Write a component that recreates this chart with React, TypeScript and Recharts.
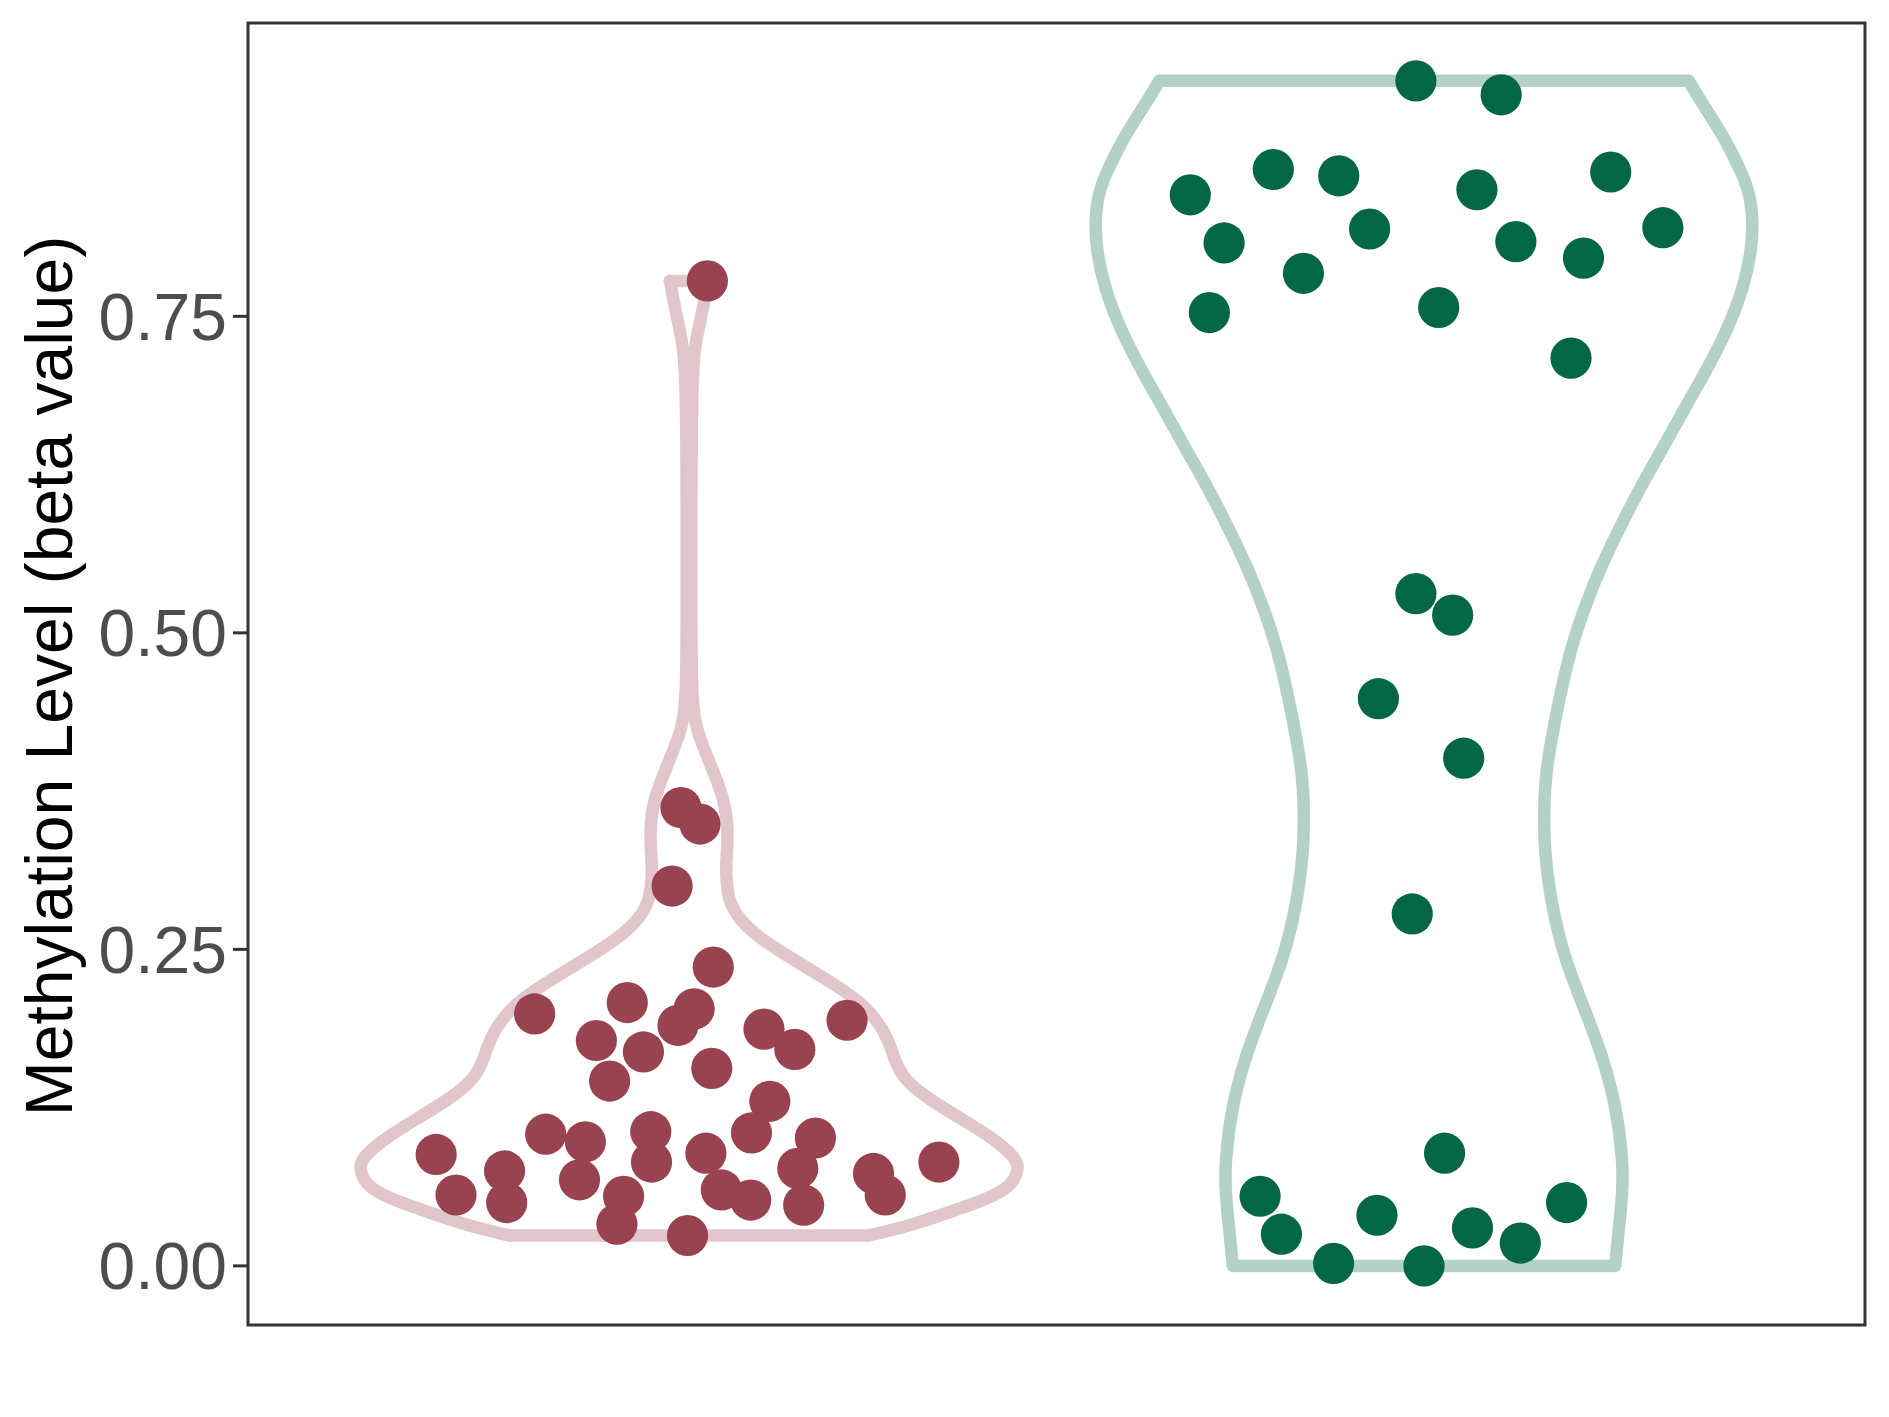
import React from 'react';
import {
    ComposedChart,
    Scatter,
    Line,
    XAxis,
    YAxis,
    ReferenceArea
} from 'recharts';

// group centres on the numeric x scale (two unlabeled categories)
const groupPositions = [1, 2];

// group 1 (red): jitter offset from centre and methylation value of each sample
const redJitter = [0.025, -0.011, 0.015, -0.023, 0.033, -0.210, -0.084, 0.007, -0.015, -0.126,
    -0.062, 0.102, 0.144, 0.215, -0.108, 0.031, 0.110, -0.195, -0.141, -0.052,
    0.085, 0.172, -0.344, -0.251, -0.149, -0.051, 0.023, 0.148, 0.251, 0.340,
    -0.317, -0.248, -0.089, 0.044, 0.084, 0.156, 0.267, -0.098, -0.002];
const redValues = [0.778, 0.362, 0.349, 0.300, 0.236, 0.199, 0.208, 0.203, 0.190, 0.178,
    0.169, 0.187, 0.171, 0.194, 0.146, 0.156, 0.130, 0.104, 0.098, 0.106,
    0.105, 0.101, 0.088, 0.075, 0.068, 0.082, 0.089, 0.077, 0.073, 0.082,
    0.056, 0.050, 0.055, 0.060, 0.052, 0.048, 0.056, 0.033, 0.024];

// group 2 (green)
const greenJitter = [-0.011, 0.105, -0.318, -0.205, -0.116, 0.072, 0.254, -0.272, -0.074, 0.125,
    0.325, -0.164, 0.217, -0.292, 0.020, 0.200, -0.011, 0.039, -0.062, 0.054,
    -0.016, 0.028, -0.223, -0.194, -0.064, -0.123, 0.000, 0.066, 0.131, 0.194];
const greenValues = [0.936, 0.925, 0.846, 0.866, 0.861, 0.850, 0.864, 0.808, 0.819, 0.809,
    0.820, 0.784, 0.796, 0.753, 0.757, 0.717, 0.531, 0.514, 0.448, 0.401,
    0.278, 0.089, 0.055, 0.025, 0.040, 0.002, 0.000, 0.030, 0.018, 0.050];

// violin outlines: half width (x units) at each level
const redViolinLevels = [0.024, 0.032, 0.043, 0.053, 0.063, 0.077, 0.085, 0.100, 0.116, 0.132,
    0.148, 0.164, 0.179, 0.195, 0.211, 0.227, 0.243, 0.258, 0.274, 0.290,
    0.306, 0.316, 0.343, 0.369, 0.395, 0.424, 0.448, 0.500, 0.600, 0.700,
    0.728, 0.753, 0.778];
const redViolinHalfWidth = [0.244, 0.303, 0.357, 0.407, 0.439, 0.449, 0.445, 0.416, 0.371, 0.325,
    0.291, 0.279, 0.271, 0.255, 0.228, 0.185, 0.139, 0.098, 0.067, 0.053,
    0.051, 0.050, 0.054, 0.048, 0.030, 0.009, 0.004, 0.003, 0.003, 0.004,
    0.008, 0.018, 0.026];

const greenViolinLevels = [0.000, 0.029, 0.056, 0.082, 0.129, 0.175, 0.230, 0.263, 0.295, 0.327,
    0.360, 0.392, 0.424, 0.456, 0.488, 0.521, 0.553, 0.585, 0.617, 0.649,
    0.682, 0.714, 0.746, 0.779, 0.811, 0.843, 0.864, 0.890, 0.917, 0.936];
const greenViolinHalfWidth = [0.260, 0.265, 0.270, 0.271, 0.261, 0.238, 0.199, 0.182, 0.171, 0.164,
    0.163, 0.166, 0.176, 0.187, 0.200, 0.219, 0.241, 0.268, 0.296, 0.328,
    0.359, 0.391, 0.418, 0.438, 0.448, 0.446, 0.432, 0.410, 0.380, 0.360];

const yTicks = [0, 0.25, 0.5, 0.75];
const Y_TITLE = 'Methylation Level (beta value)';

const FONT = '"Liberation Sans", Arial, Helvetica, sans-serif';

type Pt = { x: number; y: number };

const buildPoints = (centre: number, jitter: number[], values: number[]): Pt[] =>
    values.map((v, i) => ({ x: centre + jitter[i], y: v }));

// outline split into pieces so the sides can be smoothed along y
const buildViolin = (centre: number, levels: number[], half: number[]) => {
    const last = levels.length - 1;
    const left = levels.map((y, i) => ({ x: centre - half[i], y })).reverse();
    const right = levels.map((y, i) => ({ x: centre + half[i], y })).reverse();
    const top = [{ x: centre - half[last], y: levels[last] }, { x: centre + half[last], y: levels[last] }];
    const bottom = [{ x: centre - half[0], y: levels[0] }, { x: centre + half[0], y: levels[0] }];
    return { left, right, top, bottom };
};

const redPoints = buildPoints(groupPositions[0], redJitter, redValues);
const greenPoints = buildPoints(groupPositions[1], greenJitter, greenValues);
const redViolin = buildViolin(groupPositions[0], redViolinLevels, redViolinHalfWidth);
const greenViolin = buildViolin(groupPositions[1], greenViolinLevels, greenViolinHalfWidth);

const dot = (color: string) => (props: any) => (
    <circle cx={props.cx} cy={props.cy} r={20.6} fill={color} />
);

const renderTitle = (props: any) => {
    const vb = props.viewBox || { y: 23, height: 1302 };
    const cy = vb.y + vb.height / 2 + 2;
    return (
        <text
            x={72}
            y={cy}
            transform={`rotate(-90, 72, ${cy})`}
            textAnchor="middle"
            fontSize={66}
            fontFamily={FONT}
            fill="#000000"
        >
            {Y_TITLE}
        </text>
    );
};

const violinSeries = (
    key: string,
    v: { left: Pt[]; right: Pt[]; top: Pt[]; bottom: Pt[] },
    color: string
) => {
    const common = {
        dataKey: 'y',
        stroke: color,
        strokeWidth: 12.5,
        strokeLinecap: 'round' as const,
        strokeLinejoin: 'round' as const,
        dot: false,
        activeDot: false,
        isAnimationActive: false,
        legendType: 'none' as const,
    };
    return [
        <Line key={key + 'l'} data={v.left} type="basis" {...common} />,
        <Line key={key + 'r'} data={v.right} type="basis" {...common} />,
        <Line key={key + 't'} data={v.top} type="linear" {...common} />,
        <Line key={key + 'b'} data={v.bottom} type="linear" {...common} />,
    ];
};

export default function App() {
    return (
        <div style={{ position: 'absolute', left: 0, top: 0, background: '#ffffff' }}>
            <ComposedChart
                width={1889}
                height={1417}
                margin={{ top: 23, right: 24, bottom: 92, left: 0 }}
            >
                <XAxis type="number" dataKey="x" domain={[0.4, 2.6]} hide allowDataOverflow />
                <YAxis
                    type="number"
                    dataKey="y"
                    domain={[-0.0467, 0.9817]}
                    ticks={yTicks}
                    allowDataOverflow
                    width={248}
                    axisLine={false}
                    tickSize={15}
                    tickMargin={6}
                    tickLine={{ stroke: '#333333', strokeWidth: 3 }}
                    tick={{ fill: '#4D4D4D', fontSize: 66, fontFamily: FONT }}
                    tickFormatter={(v: number) => v.toFixed(2)}
                    label={{ content: renderTitle }}
                />
                {violinSeries('red', redViolin, '#E0C5CB')}
                {violinSeries('green', greenViolin, '#B4D1C7')}
                <Scatter data={redPoints} shape={dot('#9A4350')} isAnimationActive={false} />
                <Scatter data={greenPoints} shape={dot('#036745')} isAnimationActive={false} />
                <ReferenceArea
                    x1={0.4}
                    x2={2.6}
                    y1={-0.0467}
                    y2={0.9817}
                    fill="none"
                    fillOpacity={0}
                    stroke="#333333"
                    strokeWidth={3}
                    ifOverflow="visible"
                />
            </ComposedChart>
        </div>
    );
}
